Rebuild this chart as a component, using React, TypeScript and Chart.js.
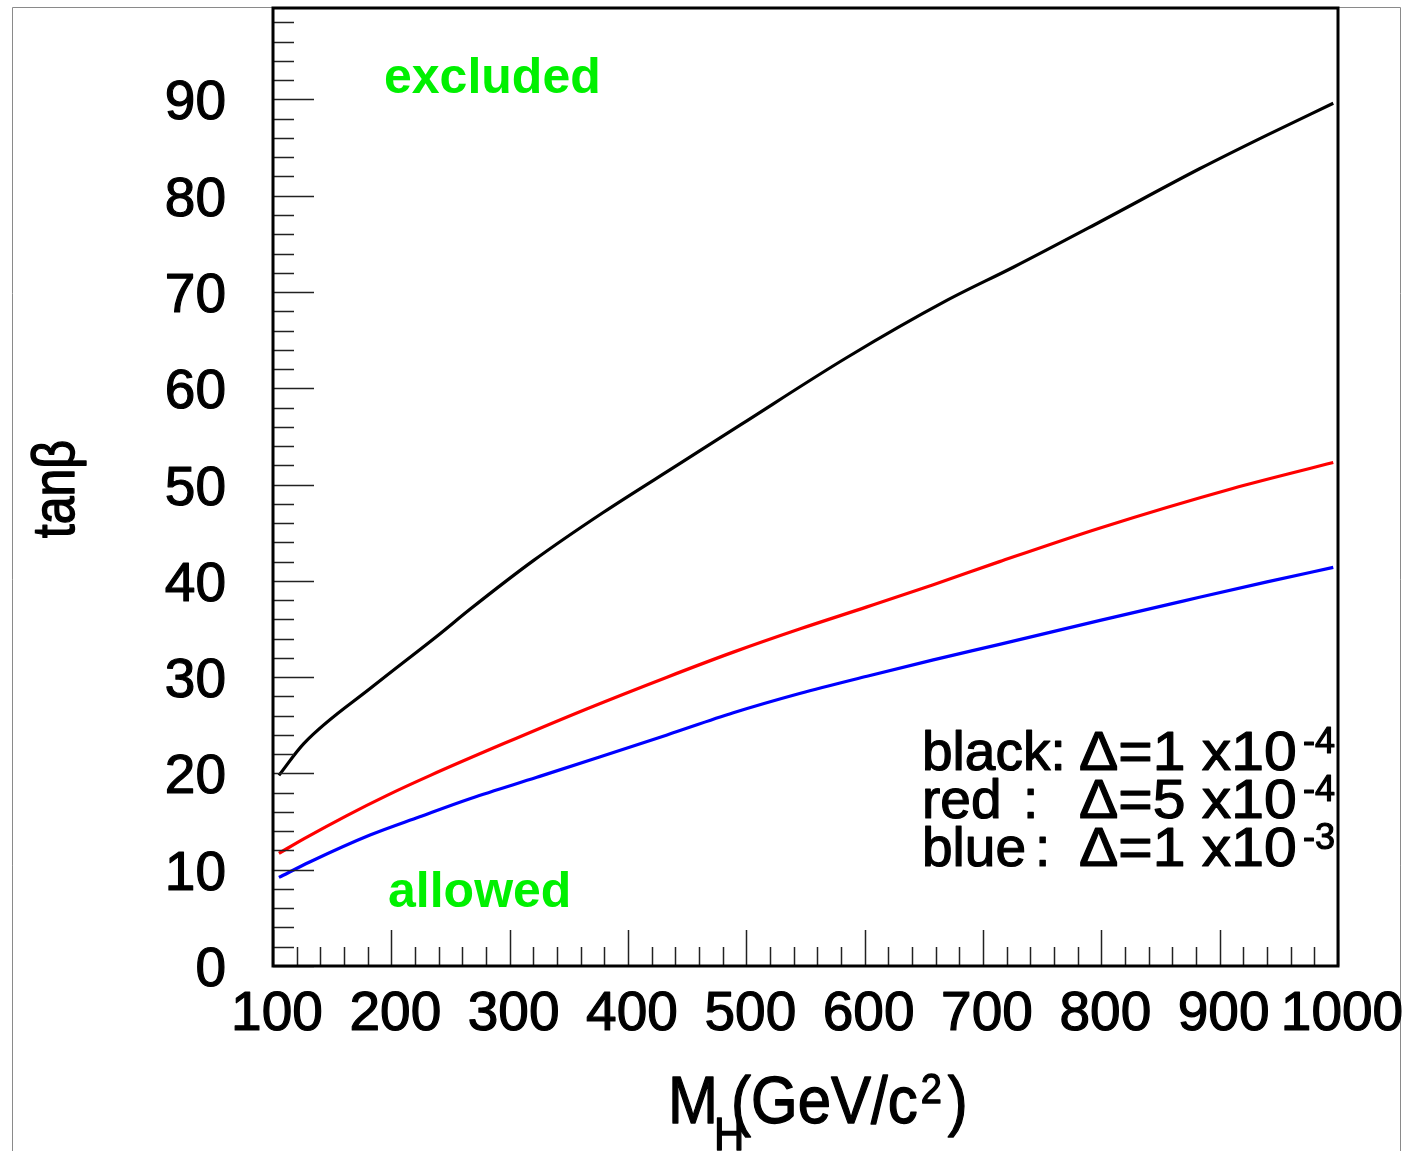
import React, { useEffect, useRef } from "react";
import { Chart, registerables } from "chart.js";

Chart.register(...registerables);

// ---- data ----
const blackMass = [105, 126, 185, 238, 267, 320, 379, 444, 495, 585, 669, 726, 799, 883, 940, 996];
const blackTanb = [19.8, 23.1, 29.1, 34.2, 37.1, 42.1, 47.1, 52.2, 56.2, 63.2, 69.1, 72.6, 77.3, 82.8, 86.3, 89.6];

const redMass = [105, 126, 162, 196, 233, 295, 365, 433, 489, 545, 602, 658, 714, 799, 911, 996];
const redTanb = [11.7, 13.2, 15.6, 17.7, 19.8, 23.1, 26.7, 30.0, 32.6, 35.0, 37.3, 39.6, 42.0, 45.5, 49.6, 52.3];

const blueMass = [105, 131, 182, 224, 267, 323, 376, 433, 489, 545, 602, 658, 714, 799, 869, 940, 996];
const blueTanb = [9.2, 10.8, 13.6, 15.5, 17.4, 19.6, 21.7, 24.0, 26.3, 28.3, 30.1, 31.8, 33.4, 35.9, 37.9, 39.9, 41.4];

const xTickLabels = ["100", "200", "300", "400", "500", "600", "700", "800", "900", "1000"];
const yTickLabels = ["0", "10", "20", "30", "40", "50", "60", "70", "80", "90"];
const xMinorStep = 20;
const yMinorStep = 2;

const legendLabels = ["black", "red", "blue"];
const legendValues = ["1", "5", "1"];
const legendExponents = ["-4", "-4", "-3"];

const FONT = '"Liberation Sans", Arial, Helvetica, sans-serif';

function toPoints(xs: number[], ys: number[]) {
  return xs.map((x, i) => ({ x, y: ys[i] }));
}

function heavyText(ctx: CanvasRenderingContext2D, t: string, x: number, y: number, w = 1.2) {
  ctx.lineWidth = w;
  ctx.strokeStyle = ctx.fillStyle as string;
  ctx.lineJoin = "round";
  ctx.strokeText(t, x, y);
  ctx.fillText(t, x, y);
}

const rootStyle = {
  id: "rootStyle",
  beforeDraw(chart: any) {
    const ctx = chart.ctx as CanvasRenderingContext2D;
    ctx.save();
    ctx.fillStyle = "#ffffff";
    ctx.fillRect(0, 0, chart.width, chart.height);
    ctx.strokeStyle = "#8a8a8a";
    ctx.lineWidth = 1;
    ctx.beginPath();
    ctx.moveTo(12.5, chart.height);
    ctx.lineTo(12.5, 7.5);
    ctx.lineTo(1400.5, 7.5);
    ctx.lineTo(1400.5, chart.height);
    ctx.stroke();
    ctx.restore();
  },
  afterDatasetsDraw(chart: any) {
    const ctx = chart.ctx as CanvasRenderingContext2D;
    const { left, right, top, bottom } = chart.chartArea;
    const xs = chart.scales.x;
    const ys = chart.scales.y;
    ctx.save();

    // ticks (inside the frame)
    ctx.strokeStyle = "#222";
    ctx.lineWidth = 1.5;
    ctx.beginPath();
    for (let v = xs.min; v <= xs.max + 1e-6; v += xMinorStep) {
      const px = Math.round(xs.getPixelForValue(v)) + 0.5;
      const major = Math.abs(v % 100) < 1e-6;
      ctx.moveTo(px, bottom);
      ctx.lineTo(px, bottom - (major ? 36 : 19));
    }
    for (let v = 0; v <= ys.max + 1e-6; v += yMinorStep) {
      const py = Math.round(ys.getPixelForValue(v)) + 0.5;
      const major = Math.abs(v % 10) < 1e-6;
      ctx.moveTo(left, py);
      ctx.lineTo(left + (major ? 41 : 21), py);
    }
    ctx.stroke();

    // frame
    ctx.strokeStyle = "#000";
    ctx.lineWidth = 3;
    ctx.strokeRect(left, top, right - left, bottom - top);

    // tick labels
    ctx.fillStyle = "#000";
    ctx.font = `55px ${FONT}`;
    ctx.textBaseline = "alphabetic";
    ctx.textAlign = "center";
    xTickLabels.forEach((t) => {
      const px = xs.getPixelForValue(Number(t));
      heavyText(ctx, t, px + 4, 1030);
    });
    ctx.textAlign = "right";
    yTickLabels.forEach((t) => {
      const py = ys.getPixelForValue(Number(t));
      heavyText(ctx, t, 226, py + 20);
    });

    // x axis title  M_H(GeV/c^2)
    ctx.save();
    ctx.translate(0, 1122.7);
    ctx.scale(1, 1.1);
    ctx.textAlign = "left";
    ctx.font = `60px ${FONT}`;
    heavyText(ctx, "M", 668, 0);
    ctx.font = `42px ${FONT}`;
    heavyText(ctx, "H", 714, 25);
    ctx.font = `60px ${FONT}`;
    heavyText(ctx, "(GeV/c", 731, 0);
    const w1 = ctx.measureText("(GeV/c").width;
    ctx.font = `38px ${FONT}`;
    heavyText(ctx, "2", 731 + w1 + 3, -18);
    const w2 = ctx.measureText("2").width;
    ctx.font = `60px ${FONT}`;
    heavyText(ctx, ")", 731 + w1 + 3 + w2 + 6, 0);
    ctx.restore();

    // y axis title tan beta
    ctx.save();
    ctx.translate(74, 489);
    ctx.rotate(-Math.PI / 2);
    ctx.scale(1, 1.2);
    ctx.textAlign = "center";
    ctx.font = `50px ${FONT}`;
    heavyText(ctx, "tan\u03B2", 0, 0);
    ctx.restore();

    // region labels
    ctx.fillStyle = "#00f000";
    ctx.textAlign = "left";
    ctx.font = `bold 50px ${FONT}`;
    ctx.fillText("excluded", 384, 93);
    ctx.fillText("allowed", 388, 907);

    // legend text
    ctx.fillStyle = "#000";
    const baselines = [770, 818, 866];
    const colonX = [null, 1023, 1035];
    legendLabels.forEach((lab, i) => {
      const b = baselines[i];
      ctx.font = `55px ${FONT}`;
      ctx.textAlign = "left";
      if (colonX[i] === null) {
        heavyText(ctx, lab + ":", 922, b);
      } else {
        heavyText(ctx, lab, 922, b);
        heavyText(ctx, ":", colonX[i] as number, b);
      }
      ctx.save();
      ctx.translate(1079, b);
      ctx.scale(1.07, 1);
      heavyText(ctx, `\u0394=${legendValues[i]} x10`, 0, 0);
      ctx.restore();
      ctx.font = `36px ${FONT}`;
      heavyText(ctx, legendExponents[i], 1303, b - 17);
    });

    ctx.restore();
  },
};

export default function App() {
  const ref = useRef<HTMLCanvasElement | null>(null);
  useEffect(() => {
    if (!ref.current) return;
    const common = { borderWidth: 3.2, pointRadius: 0, cubicInterpolationMode: "monotone" as const, fill: false };
    const chart = new Chart(ref.current, {
      type: "line",
      data: {
        datasets: [
          { label: "black", data: toPoints(blackMass, blackTanb), borderColor: "#000000", ...common },
          { label: "red", data: toPoints(redMass, redTanb), borderColor: "#ff0000", ...common },
          { label: "blue", data: toPoints(blueMass, blueTanb), borderColor: "#0000ff", ...common },
        ],
      },
      options: {
        responsive: false,
        animation: false,
        devicePixelRatio: 1,
        layout: { padding: { left: 273, right: 65, top: 8, bottom: 185 } },
        scales: {
          x: { type: "linear", min: 100, max: 1000, display: false },
          y: { type: "linear", min: 0, max: 99.5, display: false },
        },
        plugins: { legend: { display: false }, tooltip: { enabled: false }, title: { display: false } },
        events: [],
      },
      plugins: [rootStyle],
    });
    return () => chart.destroy();
  }, []);
  return (
    <div style={{ position: "fixed", left: 0, top: 0, width: 1403, height: 1151, background: "#fff" }}>
      <canvas ref={ref} width={1403} height={1151} style={{ display: "block", width: 1403, height: 1151 }} />
    </div>
  );
}
